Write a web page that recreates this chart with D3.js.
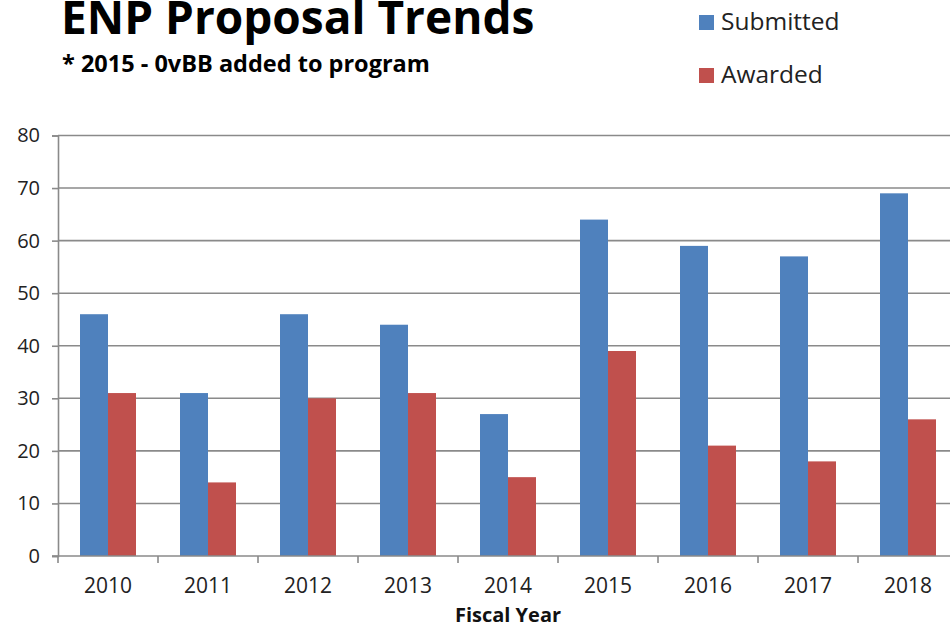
<!DOCTYPE html>
<html><head><meta charset="utf-8">
<script src="https://cdn.jsdelivr.net/npm/d3@7"></script>
<style>body{margin:0;background:#fff;overflow:hidden}svg{display:block}</style>
</head><body>
<script>
const categories = ["2010","2011","2012","2013","2014","2015","2016","2017","2018"];
const seriesNames = ["Submitted","Awarded"];
const submitted = [46,31,46,44,27,64,59,57,69];
const awarded = [31,14,30,31,15,39,21,18,26];
const yTicks = [0,10,20,30,40,50,60,70,80];
const colors = ["#4F81BD","#C0504D"];
const titleText = "ENP Proposal Trends";
const subtitleText = "* 2015 - 0vBB added to program";
const xTitle = "Fiscal Year";

const W = 950, H = 628;
const font = "'Open Sans', sans-serif";
const svg = d3.select("body").append("svg").attr("width", W).attr("height", H);

const pLeft = 58, pRight = 958, pTop = 135.5, pBottom = 556;
const x0 = d3.scaleBand().domain(categories).range([pLeft, pRight]).padding(0);
const x1 = d3.scaleBand().domain(seriesNames).range([0, x0.bandwidth()]).paddingInner(0).paddingOuter(0.7857);
const y = d3.scaleLinear().domain([0, 80]).range([pBottom, pTop]);

// gridlines
svg.append("g").selectAll("line").data(yTicks.filter(d => d > 0)).join("line")
  .attr("x1", pLeft).attr("x2", W).attr("y1", d => y(d)).attr("y2", d => y(d))
  .attr("stroke", "#8a8a8a").attr("stroke-width", 1.6);

// bars
const data = categories.map((c, i) => ({c, vals: [submitted[i], awarded[i]]}));
const g = svg.append("g").selectAll("g").data(data).join("g")
  .attr("transform", d => `translate(${x0(d.c)},0)`);
g.selectAll("rect").data(d => d.vals.map((v, j) => ({s: seriesNames[j], v, j}))).join("rect")
  .attr("x", d => x1(d.s)).attr("width", x1.bandwidth())
  .attr("y", d => y(d.v)).attr("height", d => y(0) - y(d.v))
  .attr("fill", d => colors[d.j]);

// y axis
const yAxis = d3.axisLeft(y).tickValues(yTicks).tickSize(6).tickPadding(12);
const ya = svg.append("g").attr("transform", `translate(${pLeft},0)`).call(yAxis);
ya.select(".domain").attr("stroke", "#8a8a8a").attr("stroke-width", 1.6);
ya.selectAll(".tick line").attr("stroke", "#8a8a8a").attr("stroke-width", 1.6);
ya.selectAll("text").attr("font-family", font).attr("font-size", 20).attr("fill", "#222");

// x axis
const xa = svg.append("g").attr("transform", `translate(0,${pBottom})`)
  .call(d3.axisBottom(x0).tickSize(0).tickPadding(22));
xa.select(".domain").remove();
xa.append("line").attr("x1", pLeft - 6).attr("x2", W).attr("y1", 0).attr("y2", 0)
  .attr("stroke", "#8a8a8a").attr("stroke-width", 1.6);
xa.selectAll(".tick text").attr("font-family", font).attr("font-size", 21).attr("fill", "#222");
xa.append("g").selectAll("line").data(categories).join("line")
  .attr("x1", d => x0(d)).attr("x2", d => x0(d)).attr("y1", 0).attr("y2", 7)
  .attr("stroke", "#8a8a8a").attr("stroke-width", 1.6);

svg.append("text").attr("x", 508).attr("y", 622).attr("text-anchor", "middle")
  .attr("font-family", font).attr("font-weight", "bold").attr("font-size", 20).attr("fill", "#111").text(xTitle);

// titles
svg.append("text").attr("x", 61).attr("y", 34).attr("font-family", font).attr("font-weight", "bold")
  .attr("font-size", 46).attr("fill", "#000").text(titleText);
svg.append("text").attr("x", 62).attr("y", 72).attr("font-family", font).attr("font-weight", "bold")
  .attr("font-size", 23.5).attr("fill", "#000").text(subtitleText);

// legend
const lg = svg.append("g");
seriesNames.forEach((s, i) => {
  const yy = 15 + i * 53;
  lg.append("rect").attr("x", 699).attr("y", yy).attr("width", 15).attr("height", 15).attr("fill", colors[i]);
  lg.append("text").attr("x", 721).attr("y", yy + 15).attr("font-family", font).attr("font-size", 24.5)
    .attr("fill", "#222").text(s);
});
</script>
</body></html>
